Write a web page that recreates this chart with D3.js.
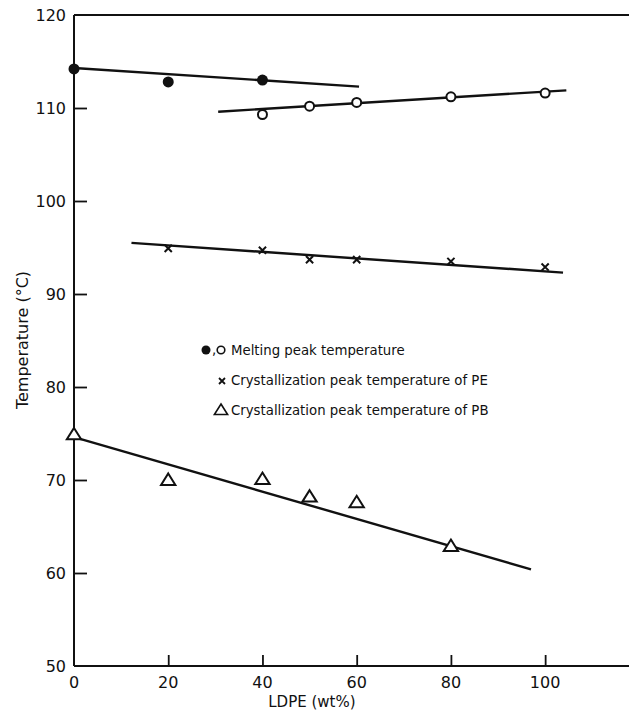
<!DOCTYPE html>
<html>
<head>
<meta charset="utf-8">
<script src="https://cdn.jsdelivr.net/npm/d3@7"></script>
<style>
  html, body { margin: 0; padding: 0; background: #fff; }
  svg { display: block; }
  text { font-family: "DejaVu Sans", "Liberation Sans", sans-serif; fill: #111; }
</style>
</head>
<body>
<svg id="chart" width="629" height="713"></svg>
<script>
// ---- data ----
const xTicks = [0, 20, 40, 60, 80, 100];
const yTicks = [50, 60, 70, 80, 90, 100, 110, 120];

// Melting peak temperature (filled circles)
const meltFilledX = [0, 20, 40];
const meltFilledY = [114.2, 112.8, 113.0];
const meltFilledFit = [[0, 114.3], [60.5, 112.3]];

// Melting peak temperature (open circles)
const meltOpenX = [40, 50, 60, 80, 100];
const meltOpenY = [109.3, 110.2, 110.6, 111.2, 111.6];
const meltOpenFit = [[30.6, 109.6], [104.5, 111.9]];

// Crystallization peak temperature of PE (x)
const crysPEX = [20, 40, 50, 60, 80, 100];
const crysPEY = [94.9, 94.7, 93.7, 93.7, 93.5, 92.9];
const crysPEFit = [[12.2, 95.5], [103.8, 92.3]];

// Crystallization peak temperature of PB (triangles)
const crysPBX = [0, 20, 40, 50, 60, 80];
const crysPBY = [74.9, 70.0, 70.1, 68.2, 67.6, 62.9];
const crysPBFit = [[0, 74.6], [97, 60.4]];

const legendLabels = [
  "Melting peak temperature",
  "Crystallization peak temperature of PE",
  "Crystallization peak temperature of PB"
];

// ---- layout ----
const svg = d3.select("#chart");
const x0 = 74, xEnd = 629, yBottom = 666, yTop = 15;
const x = d3.scaleLinear().domain([0, 117.8]).range([x0, xEnd]);
const y = d3.scaleLinear().domain([50, 120]).range([yBottom, yTop]);

const ink = "#111";

// axes frame: left, bottom, top
svg.append("line").attr("x1", x0).attr("x2", x0).attr("y1", yTop).attr("y2", yBottom)
  .attr("stroke", ink).attr("stroke-width", 2);
svg.append("line").attr("x1", x0).attr("x2", xEnd).attr("y1", yBottom).attr("y2", yBottom)
  .attr("stroke", ink).attr("stroke-width", 2);
svg.append("line").attr("x1", x0).attr("x2", xEnd).attr("y1", yTop).attr("y2", yTop)
  .attr("stroke", ink).attr("stroke-width", 2);

// y axis ticks (inward) and labels
const yAxis = d3.axisRight(y).tickValues(yTicks.slice(1, -1)).tickSize(13).tickFormat("");
const yg = svg.append("g").attr("transform", `translate(${x0},0)`).call(yAxis);
yg.select(".domain").remove();
yg.selectAll("line").attr("stroke", ink).attr("stroke-width", 1.8);
svg.append("g").selectAll("text").data(yTicks).join("text")
  .attr("x", x0 - 8).attr("y", d => y(d)).attr("dy", "0.35em")
  .attr("text-anchor", "end").attr("font-size", 16).text(d => d);

// x axis ticks (inward) and labels
const xAxis = d3.axisTop(x).tickValues(xTicks.slice(1)).tickSize(11).tickFormat("");
const xg = svg.append("g").attr("transform", `translate(0,${yBottom})`).call(xAxis);
xg.select(".domain").remove();
xg.selectAll("line").attr("stroke", ink).attr("stroke-width", 1.8);
svg.append("g").selectAll("text").data(xTicks).join("text")
  .attr("x", d => x(d)).attr("y", yBottom + 22)
  .attr("text-anchor", "middle").attr("font-size", 16).text(d => d);

// axis titles
svg.append("text").attr("x", x(50.5)).attr("y", 707).attr("text-anchor", "middle")
  .attr("font-size", 15).text("LDPE (wt%)");
svg.append("text").attr("transform", `translate(28,340) rotate(-90)`)
  .attr("text-anchor", "middle").attr("font-size", 16).text("Temperature (°C)");

// fit lines
const lineGen = d3.line().x(d => x(d[0])).y(d => y(d[1]));
[meltFilledFit, meltOpenFit, crysPEFit, crysPBFit].forEach(f => {
  svg.append("path").attr("d", lineGen(f)).attr("fill", "none")
    .attr("stroke", ink).attr("stroke-width", 2.4);
});

// markers
const zip = (xs, ys) => xs.map((v, i) => [v, ys[i]]);
svg.append("g").selectAll("circle").data(zip(meltFilledX, meltFilledY)).join("circle")
  .attr("cx", d => x(d[0])).attr("cy", d => y(d[1])).attr("r", 5.5).attr("fill", ink);
svg.append("g").selectAll("circle").data(zip(meltOpenX, meltOpenY)).join("circle")
  .attr("cx", d => x(d[0])).attr("cy", d => y(d[1])).attr("r", 4.5)
  .attr("fill", "#fff").attr("stroke", ink).attr("stroke-width", 2);
const crossPath = s => `M${-s},${-s}L${s},${s}M${-s},${s}L${s},${-s}`;
svg.append("g").selectAll("path").data(zip(crysPEX, crysPEY)).join("path")
  .attr("transform", d => `translate(${x(d[0])},${y(d[1])})`)
  .attr("d", crossPath(3.6)).attr("stroke", ink).attr("stroke-width", 2).attr("fill", "none");
const triPath = s => `M0,${-s}L${s*1.1},${s*0.75}L${-s*1.1},${s*0.75}Z`;
svg.append("g").selectAll("path").data(zip(crysPBX, crysPBY)).join("path")
  .attr("transform", d => `translate(${x(d[0])},${y(d[1])})`)
  .attr("d", triPath(6.5)).attr("stroke", ink).attr("stroke-width", 2).attr("fill", "#fff");

// legend
const lg = svg.append("g");
const lx = 231, ly0 = 350, lstep = 30;
lg.append("circle").attr("cx", lx - 25).attr("cy", ly0).attr("r", 4.5).attr("fill", ink);
lg.append("text").attr("x", lx - 19).attr("y", ly0 + 4).attr("font-size", 13.3).text(",");
lg.append("circle").attr("cx", lx - 10).attr("cy", ly0).attr("r", 3.8)
  .attr("fill", "#fff").attr("stroke", ink).attr("stroke-width", 1.6);
lg.append("path").attr("transform", `translate(${lx - 9},${ly0 + lstep + 1})`)
  .attr("d", crossPath(3)).attr("stroke", ink).attr("stroke-width", 1.8);
lg.append("path").attr("transform", `translate(${lx - 10},${ly0 + 2 * lstep})`)
  .attr("d", triPath(6)).attr("stroke", ink).attr("stroke-width", 1.6).attr("fill", "#fff");
lg.selectAll("text.lab").data(legendLabels).join("text").attr("class", "lab")
  .attr("x", lx).attr("y", (d, i) => ly0 + i * lstep).attr("dy", "0.35em")
  .attr("font-size", 13.3).text(d => d);
</script>
</body>
</html>
